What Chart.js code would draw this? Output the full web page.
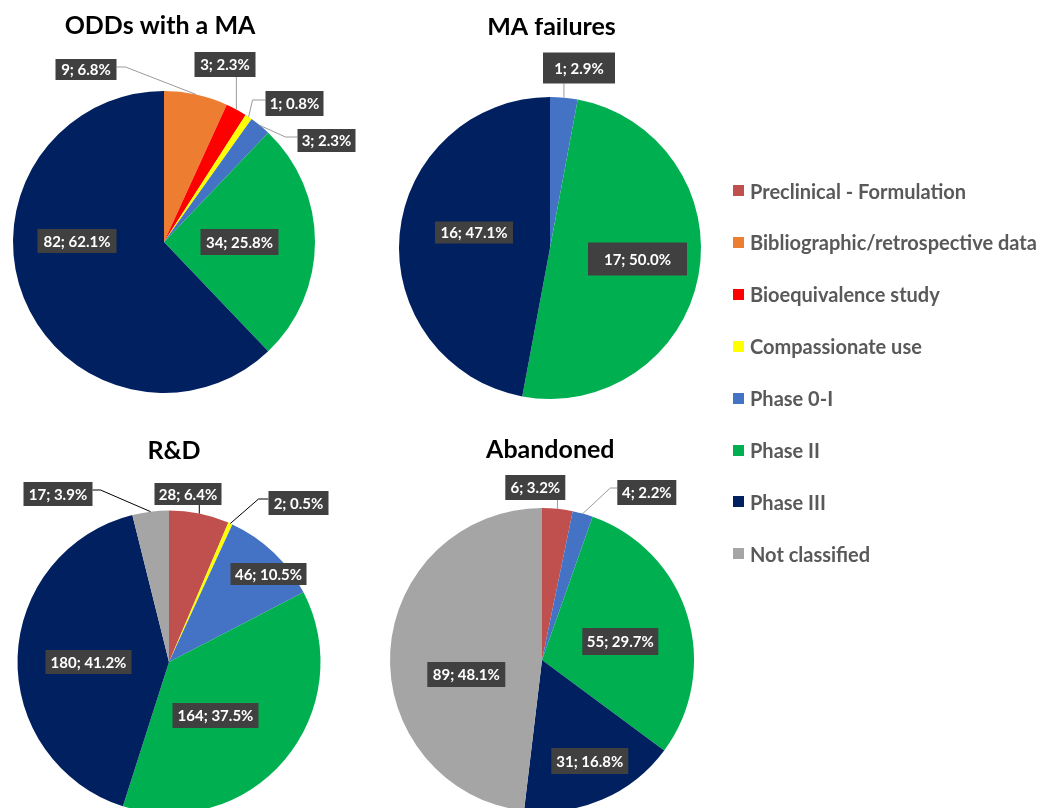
<!DOCTYPE html>
<html><head><meta charset="utf-8">
<script src="https://cdn.jsdelivr.net/npm/chart.js@4.4.1/dist/chart.umd.min.js"></script>
<style>
html,body{margin:0;padding:0;width:1045px;height:808px;overflow:hidden;background:#fff;}
canvas{position:absolute;}
.li{position:absolute;left:733px;height:22px;display:flex;align-items:center;font:bold 20px Lato, sans-serif;color:#595959;white-space:nowrap;}
.sw{width:11px;height:11px;margin-right:6px;flex:none;}
</style></head><body>
<canvas id="c0" width="460" height="460"></canvas>
<canvas id="c1" width="460" height="460"></canvas>
<canvas id="c2" width="460" height="460"></canvas>
<canvas id="c3" width="460" height="460"></canvas>
<div id="legend"></div>
<script>
// ---- data ----
const categories = ['Preclinical - Formulation','Bibliographic/retrospective data','Bioequivalence study','Compassionate use','Phase 0-I','Phase II','Phase III','Not classified'];
const colors = ['#C0504D','#ED7D31','#FF0000','#FFFF00','#4472C4','#00B050','#002060','#A5A5A5'];
const chartTitles = ['ODDs with a MA','MA failures','R&D','Abandoned'];
const oddsWithMA = [0,9,3,1,3,34,82,0];
const maFailures = [0,0,0,0,1,17,16,0];
const rAndD = [28,0,0,2,46,164,180,17];
const abandoned = [6,0,0,0,4,55,31,89];
const seriesList = [oddsWithMA, maFailures, rAndD, abandoned];

// ---- layout (positions of panels and label boxes, relative to pie centre) ----
const HALF = 230;
const panels = [
  {cx:163.5, cy:242, r:151, tdx:-4, tdy:-208, lead:'#9a9a9a', labels:{
    1:{dx:-78,dy:-172.5,w:61,h:21,ex:-38.5,ey:-175},
    2:{dx:61,dy:-177.5,w:61,h:25},
    3:{dx:130.5,dy:-138.5,w:58,h:25,ex:88.5,ey:-142},
    4:{dx:162.5,dy:-101.5,w:58,h:23,ex:121.5,ey:-105},
    5:{dx:75.5,dy:0,w:78,h:26},
    6:{dx:-87,dy:-1,w:79,h:24}}},
  {cx:550, cy:247.5, r:151, tdx:1.5, tdy:-213, lead:'#9a9a9a', labels:{
    4:{dx:29,dy:-180,w:72,h:31},
    5:{dx:87.5,dy:11,w:99,h:33},
    6:{dx:-76,dy:-15.5,w:78,h:22}}},
  {cx:168.5, cy:662, r:151.5, tdx:5, tdy:-203.5, lead:'#000000', labels:{
    0:{dx:19,dy:-168,w:67,h:22},
    3:{dx:129.5,dy:-159,w:60,h:24,ex:89.5,ey:-163},
    4:{dx:99.5,dy:-88,w:76,h:22},
    5:{dx:46.5,dy:53.5,w:86,h:25},
    6:{dx:-80.5,dy:0,w:86,h:24},
    7:{dx:-111,dy:-168,w:69,h:24,ex:-68.5,ey:-172}}},
  {cx:541.7, cy:660, r:152, tdx:8.3, tdy:-201.7, lead:'#9a9a9a', labels:{
    0:{dx:-6.7,dy:-172.5,w:60,h:25},
    4:{dx:104.8,dy:-167.5,w:59,h:25,ex:68.3,ey:-172},
    5:{dx:78.3,dy:-18.5,w:76,h:27},
    6:{dx:47.8,dy:101,w:77,h:26},
    7:{dx:-75.7,dy:14.5,w:78,h:25}}}
];

const labelPlugin = {
  id:'pieLabels',
  afterDatasetsDraw(chart){
    const p = chart.options.plugins.pieLabels;
    const ctx = chart.ctx;
    const meta = chart.getDatasetMeta(0);
    const vals = chart.data.datasets[0].data;
    const total = vals.reduce((a,b)=>a+b,0);
    const arc0 = meta.data[0];
    const cx = arc0.x, cy = arc0.y;
    // title
    ctx.save();
    ctx.fillStyle = '#000';
    ctx.font = 'bold 25px Lato, sans-serif';
    ctx.textAlign = 'center';
    ctx.textBaseline = 'alphabetic';
    ctx.fillText(p.title, cx + p.tdx, cy + p.tdy);
    ctx.restore();
    vals.forEach((v,i)=>{
      if(!v) return;
      const L = p.labels[i]; if(!L) return;
      const a = meta.data[i];
      const mid = (a.startAngle + a.endAngle)/2;
      const px = a.x + Math.cos(mid)*a.outerRadius;
      const py = a.y + Math.sin(mid)*a.outerRadius;
      const bx = cx + L.dx, by = cy + L.dy;
      const x0 = bx - L.w/2, y0 = by - L.h/2;
      ctx.save();
      ctx.strokeStyle = p.lead; ctx.lineWidth = 1;
      const inside = Math.hypot(bx-cx, by-cy) < a.outerRadius;
      if(!inside){
        ctx.beginPath();
        ctx.moveTo(px, py);
        if(L.ex !== undefined){
          const ex = cx + L.ex, ey = cy + L.ey;
          ctx.lineTo(ex, ey);
          ctx.lineTo(ex < bx ? x0 : x0 + L.w, ey);
        } else {
          ctx.lineTo(px, y0 + L.h);
        }
        ctx.stroke();
      }
      ctx.fillStyle = '#404040';
      ctx.fillRect(x0, y0, L.w, L.h);
      ctx.fillStyle = '#ffffff';
      ctx.font = 'bold 15px Lato, sans-serif';
      ctx.textAlign = 'center';
      ctx.textBaseline = 'middle';
      const pct = (v/total*100).toFixed(1);
      ctx.fillText(v + '; ' + pct + '%', bx, by + 1);
      ctx.restore();
    });
  }
};

panels.forEach((p, k)=>{
  const cv = document.getElementById('c'+k);
  cv.style.left = (p.cx - HALF) + 'px';
  cv.style.top = (p.cy - HALF) + 'px';
  const pad = HALF - p.r;
  new Chart(cv, {
    type:'pie',
    data:{labels:categories, datasets:[{data:seriesList[k], backgroundColor:colors, borderWidth:0}]},
    options:{
      responsive:false, animation:false,
      layout:{padding:pad},
      events:[],
      plugins:{legend:{display:false}, tooltip:{enabled:false},
        pieLabels:{title:chartTitles[k], tdx:p.tdx, tdy:p.tdy, lead:p.lead, labels:p.labels}}
    },
    plugins:[labelPlugin]
  });
});

// legend
const lg = document.getElementById('legend');
categories.forEach((c,i)=>{
  const d = document.createElement('div');
  d.className = 'li';
  d.style.top = (190.5 + i*51.9 - 11) + 'px';
  d.innerHTML = '<span class="sw" style="background:'+colors[i]+'"></span><span></span>';
  d.lastChild.textContent = c;
  lg.appendChild(d);
});
</script>
</body></html>
